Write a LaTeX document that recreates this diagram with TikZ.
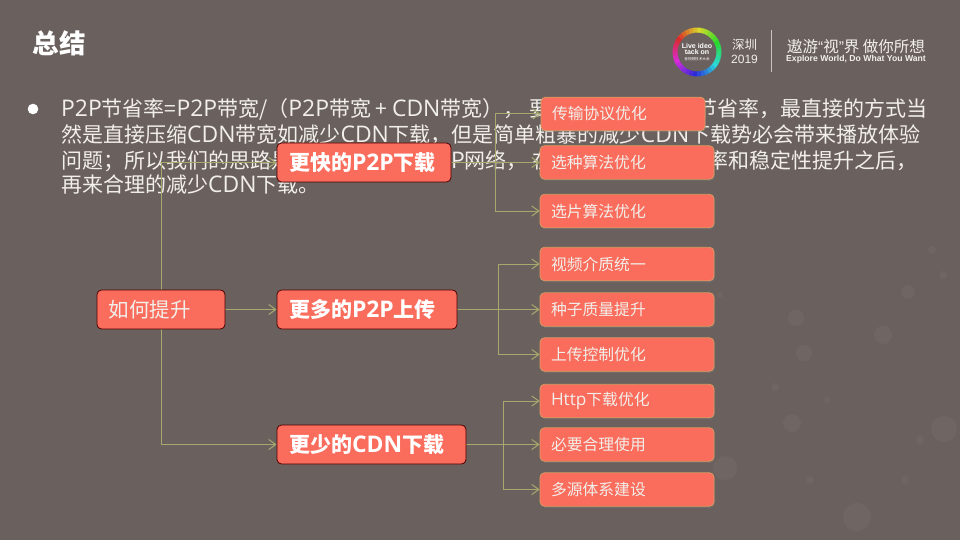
\documentclass[tikz,border=0pt]{standalone}
\usepackage{fontspec}
\setmainfont{Noto Sans CJK SC}
\newfontfamily\latinf{Liberation Sans}
\newfontfamily\opf[Scale=1.09]{Open Sans}
\newcommand{\LL}[1]{{\opf #1}}
\usetikzlibrary{arrows.meta,shadows}
\definecolor{bgc}{HTML}{6A615E}
\definecolor{boxc}{HTML}{FA6C5C}
\definecolor{linec}{HTML}{A6A96E}
\definecolor{txtc}{HTML}{F2EFEA}
\definecolor{leafb}{HTML}{D99A62}
\newcommand{\fs}[1]{\fontsize{#1}{#1}\selectfont}
\tikzset{
  x=1pt,y=-1pt,
  bodytext/.style={anchor=base west,inner sep=0pt,text=txtc,font=\fs{21}},
  mainbox/.style={draw=black!70!red,fill=boxc,rounded corners=4.5pt,line width=.8pt,minimum height=39pt,inner xsep=0pt,inner ysep=0pt,text=white,align=left},
  rootbox/.style={mainbox,minimum width=128pt,text width=105pt,font=\fs{20.5},text=txtc},
  subbox/.style={mainbox,font=\bfseries\fs{21}},
  leafbox/.style={draw=leafb,fill=boxc,rounded corners=4.5pt,line width=.8pt,minimum height=33.5pt,minimum width=174pt,text width=152pt,align=left,inner xsep=0pt,inner ysep=0pt,text=txtc,font=\fs{15.8},drop shadow={shadow xshift=.8pt,shadow yshift=-1.5pt,opacity=.35}},
  conn/.style={draw=linec,line width=1pt,-{Straight Barb[length=7pt,width=10pt,line width=1pt]}},
  bokeh/.style={fill=white,opacity=.035},
}
\begin{document}
\begin{tikzpicture}
\useasboundingbox (0,0) rectangle (960,540);
\fill[bgc] (0,0) rectangle (960,540);
\foreach \a/\b/\r in {908/292/7,883/335/9,796/318/8,804/353/8,792/423/9,944/429/13,725/468/12,857/517/14,943/275/4,932/250/4,775/387/4,720/295/3,810/480/4,920/440/4,905/480/4,827/400/3}
  \fill[bokeh] (\a,\b) circle (\r);
% title
\node[anchor=center,inner sep=0pt,text=white,font=\bfseries\fs{26.5}] (title) at (59,43) {总结};
% logo
\foreach \t in {0,10,...,350}{
  \pgfmathsetmacro{\hh}{mod(60+\t,360)}
  \definecolor{ringc}{Hsb}{\hh,0.8,0.85}
  \draw[ringc,line width=5pt] (697,52) ++(\t-90:22) arc[start angle=\t-90,end angle=\t-79,radius=22];
}
\node[inner sep=0pt,align=center,text=white,font=\latinf\bfseries\fs{7}] (logot) at (697,49.5) {Live ideo\\[-1pt]tack on};
\node[inner sep=0pt,text=white,font=\fs{3.6}] (logos) at (697,59) {音视频技术大会};
\node[inner sep=0pt,text=txtc,font=\fs{12.5}] (city) at (744.5,45) {深圳};
\node[inner sep=0pt,text=txtc,font=\latinf\fs{12}] (year) at (744.5,59.5) {2019};
\draw[txtc!70!bgc,line width=1pt] (771,30) -- (771,72);
\node[anchor=center,inner sep=0pt,text=txtc,font=\fs{15.5}] (slog) at (856,46.5) {遨游{\latinf “}视{\latinf ”}界\ 做你所想};
\node[anchor=center,inner sep=0pt,text=txtc,font=\latinf\bfseries\fs{8.65}] (slogen) at (856,59) {Explore World, Do What You Want};
% bullet and text
\fill[white] (33,109) circle (5.3);
\node[bodytext] (l1) at (61,117) {\LL{P2P}节省率=\LL{P2P}带宽/（\LL{P2P}带宽 + \LL{CDN}带宽），};
\node[bodytext] (l1b) at (529,117) {要};
\node[bodytext,anchor=base east] (l1c) at (928,117) {节省率，最直接的方式当};
\node[bodytext] (l2) at (61,142.5) {然是直接压缩\LL{CDN}带宽如减少\LL{CDN}下载，但是简单粗暴的减少\LL{CDN}下载势必会带来播放体验};
\node[bodytext] (l3) at (61,168) {问题；所以我们的思路是};
\node[bodytext] (l3b) at (451,168) {\LL{P}网络，};
\node[bodytext] (l3c) at (532,168) {在};
\node[bodytext,anchor=base east] (l3d) at (918,168) {率和稳定性提升之后，};
\node[bodytext] (l4) at (61,193) {再来合理的减少\LL{CDN}下载。};
% junction coordinates
\coordinate (ja) at (495,162.5);
\coordinate (jb) at (498.5,309.5);
\coordinate (jc) at (503,444.5);
\pgfdeclarelayer{front}\pgfsetlayers{main,front}
\begin{pgfonlayer}{front}
\node[rootbox] (root) at (161,309.5) {如何提升};
\node[subbox,minimum width=174pt,text width=150pt] (fast) at (364,162.5) {更快的\LL{P2P}下载};
\node[subbox,minimum width=180pt,text width=156pt] (more) at (367,309.5) {更多的\LL{P2P}上传};
\node[subbox,minimum width=189pt,text width=165pt] (less) at (371.5,444.5) {更少的\LL{CDN}下载};
\node[leafbox,minimum width=164pt,text width=142pt] (a1) at (623,114) {传输协议优化};
\node[leafbox] (a2) at (627,162.5) {选种算法优化};
\node[leafbox] (a3) at (627,211) {选片算法优化};
\node[leafbox] (b1) at (627,264) {视频介质统一};
\node[leafbox] (b2) at (627,309.5) {种子质量提升};
\node[leafbox] (b3) at (627,354.5) {上传控制优化};
\node[leafbox] (c1) at (627,401) {\LL{Http}下载优化};
\node[leafbox] (c2) at (627,444.5) {必要合理使用};
\node[leafbox] (c3) at (627,489.5) {多源体系建设};
\end{pgfonlayer}
% connectors
\draw[conn] (root.north) |- (fast.west);
\draw[conn] (root.east) -- (more.west);
\draw[conn] (root.south) |- (less.west);
\draw[conn] (fast.east) -- (a2.west);
\draw[conn] (more.east) -- (b2.west);
\draw[conn] (less.east) -- (c2.west);
\draw[conn] (ja) |- (a1.west);
\draw[conn] (ja) |- (a3.west);
\draw[conn] (jb) |- (b1.west);
\draw[conn] (jb) |- (b3.west);
\draw[conn] (jc) |- (c1.west);
\draw[conn] (jc) |- (c3.west);
\end{tikzpicture}
\end{document}
